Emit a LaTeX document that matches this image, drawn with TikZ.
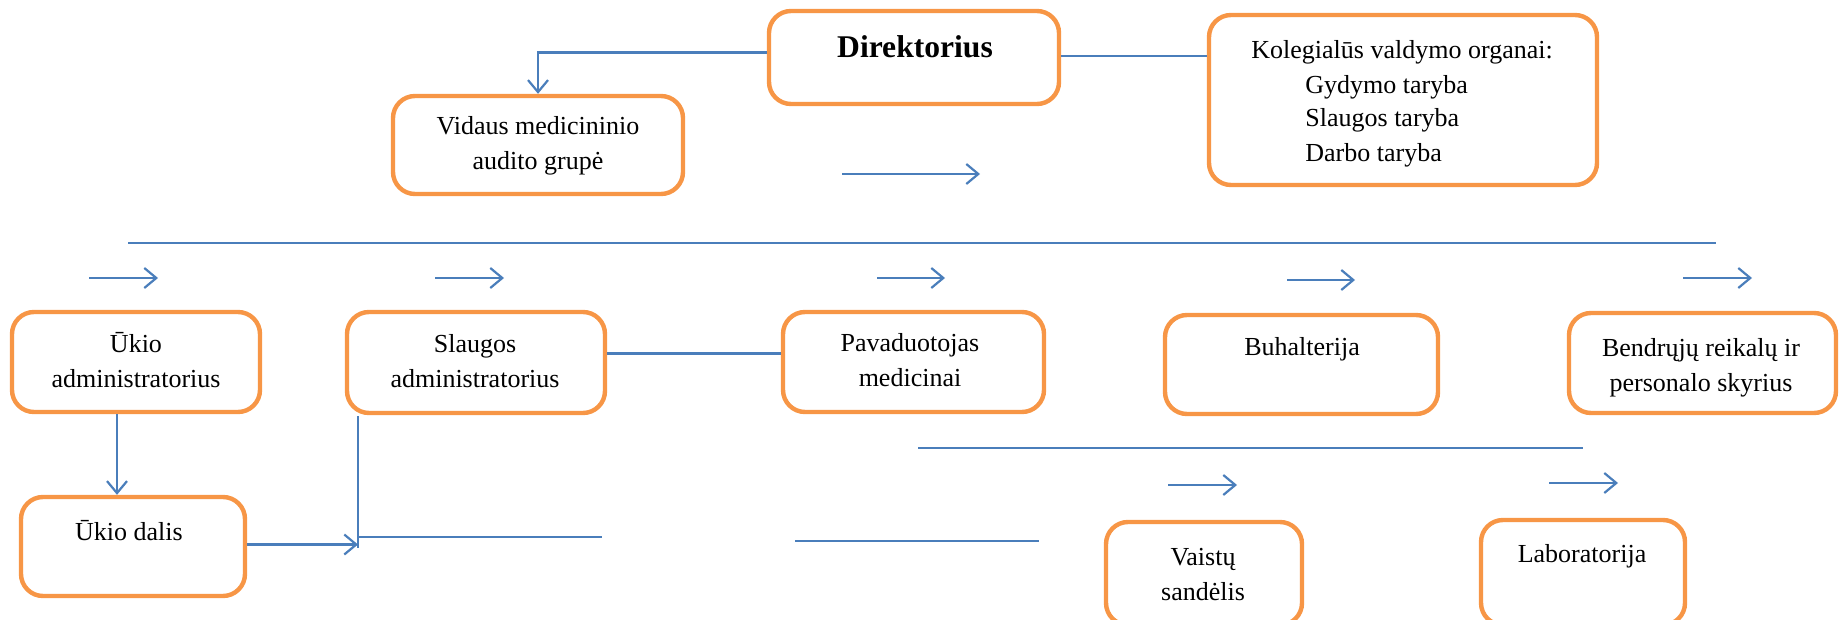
\documentclass[tikz,border=0pt]{standalone}
\usepackage{fontspec}
\setmainfont{Liberation Serif}
\usetikzlibrary{arrows.meta}
\definecolor{boxorange}{HTML}{F79646}
\definecolor{lineblue}{HTML}{4A7EBB}
\tikzset{
  unit/.style={draw=boxorange, line width=2.2pt, rounded corners=11pt, fill=white, inner sep=0pt},
  txt/.style={align=center, inner sep=0pt, font=\fontsize{13}{17.5}\selectfont},
  ln/.style={draw=lineblue, line width=1.1pt},
  arr/.style={ln, -{Straight Barb[length=6pt, width=10pt, line width=1.1pt]}}
}
\begin{document}
\begin{tikzpicture}[x=0.5pt, y=-0.5pt]
  \useasboundingbox (0,0) rectangle (1839,620);
  \node[unit, minimum width=145pt, minimum height=46.5pt] (dir) at (914,57.5) {};
  \node[unit, minimum width=194pt, minimum height=85pt] (kol) at (1403,100) {};
  \node[unit, minimum width=145pt, minimum height=49pt] (vid) at (538,145) {};
  \node[unit, minimum width=124pt, minimum height=50pt] (uad) at (136,362) {};
  \node[unit, minimum width=129pt, minimum height=50.5pt] (sla) at (476,362.5) {};
  \node[unit, minimum width=130.5pt, minimum height=50pt] (pav) at (913.5,362) {};
  \node[unit, minimum width=136.5pt, minimum height=49.5pt] (buh) at (1301.5,364.5) {};
  \node[unit, minimum width=133.5pt, minimum height=50pt] (ben) at (1702.5,363) {};
  \node[unit, minimum width=112pt, minimum height=49.5pt] (ukd) at (133,546.5) {};
  \node[unit, minimum width=98pt, minimum height=51.5pt] (vai) at (1204,573.5) {};
  \node[unit, minimum width=102pt, minimum height=52.5pt] (lab) at (1583,572.5) {};

  \node[txt, font=\fontsize{15.8}{18}\selectfont\bfseries] (dirt) at (915,47) {Direktorius};
  \node[txt, anchor=base west] (kolt) at (1251,59) {Kolegialūs valdymo organai:};
  \node[txt, anchor=base west] (kolt1) at (1305,94) {Gydymo taryba};
  \node[txt, anchor=base west] (kolt2) at (1305,127) {Slaugos taryba};
  \node[txt, anchor=base west] (kolt3) at (1305,162) {Darbo taryba};
  \node[txt] (vidt) at (538,145.5) {Vidaus medicininio\\audito grupė};
  \node[txt] (uadt) at (136,360.5) {Ūkio\\administratorius};
  \node[txt] (slat) at (475,361) {Slaugos\\administratorius};
  \node[txt] (pavt) at (910,360.5) {Pavaduotojas\\medicinai};
  \node[txt] (buht) at (1302,349) {Buhalterija};
  \node[txt] (bent) at (1701,367.5) {Bendrųjų reikalų ir\\personalo skyrius};
  \node[txt] (ukdt) at (129,531) {Ūkio dalis};
  \node[txt] (vait) at (1203,574.5) {Vaistų\\sandėlis};
  \node[txt] (labt) at (1582,556) {Laboratorija};

  \coordinate (top1) at (128,243);
  \coordinate (top2) at (1716,243);
  \coordinate (mid1) at (918,448);
  \coordinate (mid2) at (1583,448);
  \coordinate (v1) at (358,416);
  \coordinate (v2) at (358,548);
  \coordinate (b1) at (602,537);
  \coordinate (c1) at (795,541);
  \coordinate (c2) at (1039,541);

  \draw[arr] ([yshift=2.5pt]dir.west) -| (vid.north);
  \draw[ln] ([yshift=0.8pt]dir.east) -- ([yshift=0.8pt]dir.east -| kol.west);
  \draw[ln] ([yshift=4.5pt]sla.east) -- ([yshift=4.5pt]sla.east -| pav.west);
  \draw[arr] ([xshift=-9.5pt]uad.south) -- ([xshift=-9.5pt]uad.south |- ukd.north);
  \draw[arr] ([yshift=1pt]ukd.east) -- ([yshift=1pt]ukd.east -| v1);
  \draw[ln] (v1) -- (v2);
  \draw[ln] (v2 |- b1) -- (b1);
  \draw[ln] (c1) -- (c2);
  \draw[ln] (top1) -- (top2);
  \draw[ln] (mid1) -- (mid2);
  \foreach \xa/\xb/\ya in {842/980/174, 89/158/278, 435/504/278, 877/945/278,
      1287/1355/280, 1683/1752/278, 1168/1237/485, 1549/1618/483}
    \draw[arr] (\xa,\ya) -- (\xb,\ya);
\end{tikzpicture}
\end{document}
